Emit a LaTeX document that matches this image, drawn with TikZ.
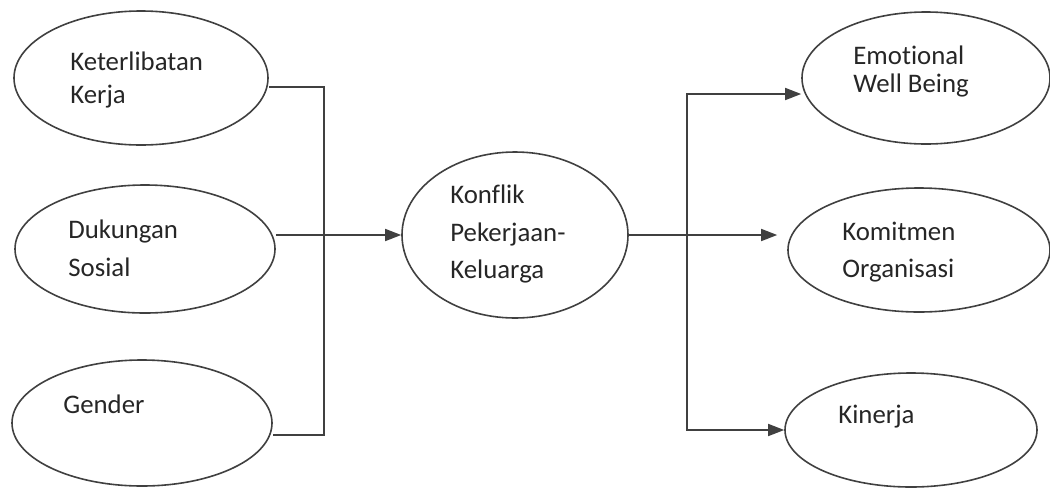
\documentclass[tikz,border=0pt]{standalone}
\usepackage{fontspec}
\setmainfont{Carlito}[Ligatures=NoCommon]
\usetikzlibrary{shapes.geometric,arrows.meta}

\tikzset{
  var/.style={draw=black!75, line width=0.8pt, ellipse, inner sep=0pt},
  lbl/.style={anchor=base west, inner sep=0pt, text=black!85, font=\fontsize{13.4}{16}\selectfont},
  conn/.style={draw=black!75, line width=0.8pt},
  arr/.style={conn, -{Triangle[length=8pt,width=6pt]}}
}

\begin{document}
\begin{tikzpicture}[x=0.5pt,y=-0.5pt]
\useasboundingbox (0,0) rectangle (1050,488);
% variabel bebas
\node[var, minimum width=127pt, minimum height=67pt] (kk) at (141,78) {};
\node[var, minimum width=130pt, minimum height=64pt] (ds) at (145,249) {};
\node[var, minimum width=130pt, minimum height=63pt] (gd) at (142,423) {};
\node[lbl] (kk1) at (70,70) {Keterlibatan};
\node[lbl] (kk2) at (70,103) {Kerja};
\node[lbl] (ds1) at (68,238) {Dukungan};
\node[lbl] (ds2) at (68,276) {Sosial};
\node[lbl] (gd1) at (63,413) {Gender};
% variabel antara
\node[var, minimum width=113pt, minimum height=83pt] (ks) at (515,235) {};
\node[lbl] (ks1) at (450,203) {Konflik};
\node[lbl] (ks2) at (450,241) {Pekerjaan-};
\node[lbl] (ks3) at (450,278) {Keluarga};
% variabel terikat
\node[var, minimum width=124pt, minimum height=66pt] (ew) at (926,78) {};
\node[var, minimum width=131pt, minimum height=62pt] (ko) at (919,250) {};
\node[var, minimum width=126pt, minimum height=57pt] (kn) at (911,430) {};
\node[lbl] (ew1) at (853,64) {Emotional};
\node[lbl] (ew2) at (853,92) {Well Being};
\node[lbl] (ko1) at (842,240) {Komitmen};
\node[lbl] (ko2) at (842,277) {Organisasi};
\node[lbl] (kn1) at (838,423) {Kinerja};

% panah
\draw[conn] ([yshift=-4.5pt]kk.east) -- ++(55,0) |- ([yshift=-6pt]gd.east);
\draw[arr] (ds.east |- ks.west) -- (ks.west);
\coordinate (busR) at (687,235);
\draw[arr] (ks.east) -- ([xshift=-5pt]ks.east -| ko.west);
\draw[arr] (busR) |- ([yshift=-8pt]ew.west);
\draw[arr] (busR) |- (kn.west);
\end{tikzpicture}
\end{document}
